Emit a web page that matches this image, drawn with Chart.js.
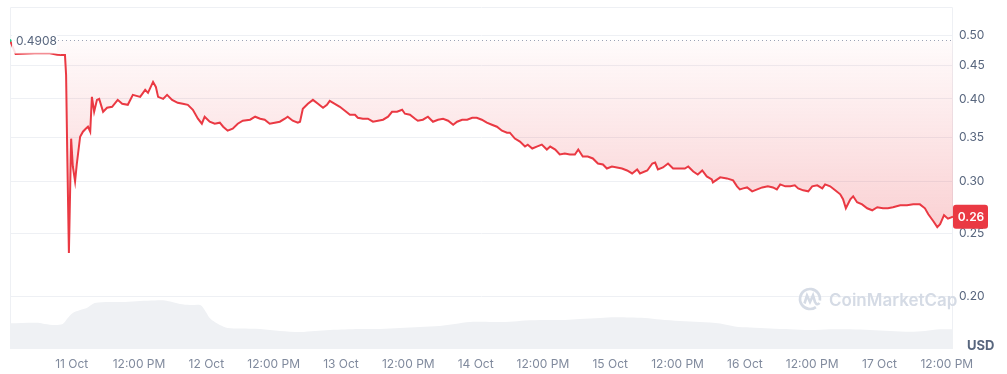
<!DOCTYPE html>
<html>
<head>
<meta charset="utf-8">
<script src="https://cdn.jsdelivr.net/npm/chart.js@4.4.1/dist/chart.umd.min.js"></script>
<style>
  html, body { margin: 0; padding: 0; background: #fff; }
  #wrap { width: 1007px; height: 374px; position: relative; }
</style>
</head>
<body>
<div id="wrap"><canvas id="priceChart"></canvas></div>
<script>
// hours since 11 Oct 00:00
const priceHours = [
  -11.0, -10.0, -6.6, -3.9, -2.6, -1.9, -1.2, -1.0, -0.8, -0.5,
  -0.1, 0.2, 0.6, 0.9, 1.5, 2.0, 2.5, 2.9, 3.3, 3.6,
  4.0, 4.5, 4.9, 5.6, 6.3, 7.2, 8.2, 9.0, 10.0, 10.9,
  12.2, 13.1, 13.6, 14.5, 15.0, 15.4, 16.3, 17.0, 17.9, 18.9,
  19.8, 20.7, 21.6, 22.5, 23.2, 23.7, 24.6, 25.5, 26.4, 27.0,
  27.8, 28.7, 29.6, 30.5, 31.8, 32.7, 33.6, 34.4, 35.3, 36.2,
  37.1, 38.0, 38.5, 39.4, 40.3, 40.7, 41.2, 42.1, 43.0, 43.9,
  44.8, 45.5, 46.0, 46.9, 47.8, 48.7, 49.6, 50.5, 51.0, 51.9,
  52.8, 53.7, 54.6, 55.5, 56.4, 57.1, 58.0, 58.9, 59.4, 60.3,
  61.2, 61.7, 62.6, 63.5, 64.4, 65.3, 66.2, 67.1, 68.0, 68.7,
  69.6, 70.5, 71.4, 72.2, 73.1, 74.0, 74.9, 75.8, 76.7, 77.6,
  78.1, 79.0, 79.9, 80.8, 81.3, 82.1, 82.9, 83.8, 84.7, 85.3,
  86.2, 87.0, 87.9, 88.8, 89.7, 90.3, 91.1, 92.0, 92.9, 93.8,
  94.7, 95.4, 96.3, 97.2, 98.1, 99.0, 99.9, 100.8, 101.3, 102.6,
  103.5, 104.0, 104.5, 105.4, 106.3, 107.2, 108.1, 109.3, 109.9, 110.8,
  111.6, 112.4, 113.2, 114.1, 114.3, 115.6, 116.8, 117.9, 118.6, 119.1,
  119.7, 120.4, 121.3, 122.2, 123.1, 124.1, 125.0, 125.7, 126.3, 127.2,
  128.1, 128.9, 129.5, 130.4, 131.3, 132.0, 132.9, 133.8, 134.3, 135.2,
  136.1, 137.0, 137.5, 138.0, 138.8, 139.3, 140.0, 140.9, 141.8, 142.7,
  143.6, 144.6, 145.5, 146.4, 147.7, 148.9, 150.0, 151.2, 152.1, 152.7,
  153.6, 154.3, 154.8, 155.5, 156.2, 157.1
];
const prices = [
  0.4908, 0.4680, 0.4695, 0.4695, 0.4668, 0.4663, 0.4663, 0.4350, 0.3326, 0.2331,
  0.3480, 0.3157, 0.2996, 0.3179, 0.3504, 0.3566, 0.3603, 0.3629, 0.3566, 0.4029,
  0.3824, 0.3987, 0.4001, 0.3824, 0.3878, 0.3891, 0.3987, 0.3932, 0.3918, 0.4057,
  0.4029, 0.4129, 0.4086, 0.4246, 0.4172, 0.4029, 0.4001, 0.4057, 0.3987, 0.3946,
  0.3932, 0.3918, 0.3851, 0.3732, 0.3667, 0.3758, 0.3693, 0.3667, 0.3680, 0.3629,
  0.3579, 0.3604, 0.3667, 0.3706, 0.3719, 0.3758, 0.3732, 0.3719, 0.3667, 0.3680,
  0.3693, 0.3732, 0.3758, 0.3706, 0.3680, 0.3693, 0.3864, 0.3932, 0.3987, 0.3932,
  0.3878, 0.3918, 0.3973, 0.3932, 0.3891, 0.3838, 0.3784, 0.3784, 0.3745, 0.3732,
  0.3732, 0.3693, 0.3706, 0.3719, 0.3758, 0.3824, 0.3824, 0.3851, 0.3798, 0.3784,
  0.3732, 0.3706, 0.3719, 0.3758, 0.3693, 0.3719, 0.3732, 0.3706, 0.3654, 0.3693,
  0.3719, 0.3719, 0.3745, 0.3745, 0.3719, 0.3680, 0.3654, 0.3629, 0.3579, 0.3554,
  0.3554, 0.3481, 0.3444, 0.3385, 0.3408, 0.3362, 0.3385, 0.3408, 0.3350, 0.3385,
  0.3350, 0.3292, 0.3303, 0.3292, 0.3292, 0.3350, 0.3270, 0.3270, 0.3247, 0.3190,
  0.3179, 0.3135, 0.3157, 0.3146, 0.3135, 0.3113, 0.3081, 0.3124, 0.3081, 0.3113,
  0.3190, 0.3201, 0.3124, 0.3146, 0.3190, 0.3135, 0.3135, 0.3135, 0.3157, 0.3102,
  0.3070, 0.3113, 0.3049, 0.3018, 0.2986, 0.3039, 0.3028, 0.3007, 0.2945, 0.2914,
  0.2924, 0.2934, 0.2894, 0.2914, 0.2934, 0.2945, 0.2934, 0.2914, 0.2965, 0.2945,
  0.2945, 0.2955, 0.2924, 0.2904, 0.2894, 0.2945, 0.2955, 0.2924, 0.2965, 0.2945,
  0.2904, 0.2864, 0.2815, 0.2727, 0.2815, 0.2844, 0.2785, 0.2765, 0.2727, 0.2708,
  0.2737, 0.2727, 0.2727, 0.2737, 0.2756, 0.2756, 0.2765, 0.2765, 0.2727, 0.2671,
  0.2606, 0.2553, 0.2579, 0.2662, 0.2630, 0.2648
];

// volume, millions USD
const volumeHours = [
  -11.0, -6.0, -4.8, -3.0, -1.6, -0.7, 0.2, 1.5, 2.7, 4.1,
  6.8, 9.5, 12.2, 14.8, 16.6, 17.9, 19.3, 21.1, 22.9, 23.7,
  24.6, 25.5, 26.4, 27.8, 30.0, 33.6, 37.1, 40.7, 43.4, 46.0,
  48.7, 51.4, 55.0, 58.5, 62.1, 65.6, 68.3, 71.0, 74.6, 78.1,
  80.8, 84.4, 87.9, 90.6, 94.2, 96.9, 99.5, 102.2, 104.9, 108.4,
  112.0, 115.6, 118.2, 120.9, 124.5, 128.1, 131.6, 135.2, 138.8, 142.3,
  145.9, 149.5, 152.1, 154.8, 157.1
];
const volumes = [
  10.3, 10.5, 10.0, 9.6, 10.0, 12.4, 14.4, 15.6, 16.4, 18.4,
  18.8, 18.8, 19.2, 19.4, 19.4, 18.8, 18.0, 17.6, 17.6, 15.6,
  12.4, 10.8, 9.6, 8.4, 8.2, 8.0, 7.2, 6.8, 7.2, 7.6,
  7.8, 8.0, 8.0, 8.4, 8.8, 9.2, 10.0, 10.8, 10.8, 10.9,
  11.4, 11.6, 11.6, 12.0, 12.4, 12.7, 12.6, 12.4, 11.8, 11.2,
  10.8, 10.2, 9.0, 8.6, 8.2, 7.9, 7.6, 7.9, 7.9, 7.6,
  7.2, 6.9, 7.2, 7.9, 7.9
];

const openPrice = 0.4908;
const priceTicks = [0.20, 0.25, 0.30, 0.35, 0.40, 0.45, 0.50];
const timeTicks = [0, 12, 24, 36, 48, 60, 72, 84, 96, 108, 120, 132, 144, 156];
const timeLabels = ['11 Oct', '12:00 PM', '12 Oct', '12:00 PM', '13 Oct', '12:00 PM', '14 Oct',
  '12:00 PM', '15 Oct', '12:00 PM', '16 Oct', '12:00 PM', '17 Oct', '12:00 PM'];

const xMin = -11.0, xMax = 157.1;
const FONT = 'Inter, "Noto Sans", sans-serif';
const RED = '#ea3943';

function redFill(context) {
  const chart = context.chart;
  const yScale = chart.scales.y;
  if (!chart.chartArea || !yScale) return 'rgba(234,57,67,0.08)';
  const top = yScale.getPixelForValue(openPrice);
  const bottom = yScale.getPixelForValue(0.25);
  const g = chart.ctx.createLinearGradient(0, top, 0, bottom);
  g.addColorStop(0, 'rgba(234,57,67,0.02)');
  g.addColorStop(1, 'rgba(234,57,67,0.24)');
  return g;
}

// frame, watermark, open price label, last price tag
const overlay = {
  id: 'overlay',
  beforeDatasetsDraw(chart) {
    const c = chart.ctx, a = chart.chartArea;
    c.save();
    c.strokeStyle = '#eef0f4';
    c.lineWidth = 1;
    c.beginPath();
    c.moveTo(a.left + 0.5, a.bottom);
    c.lineTo(a.left + 0.5, a.top + 0.5);
    c.lineTo(a.right - 0.5, a.top + 0.5);
    c.lineTo(a.right - 0.5, a.bottom);
    c.stroke();

    // watermark
    const cx = a.right - 143, cy = a.bottom - 50;
    c.strokeStyle = '#d5dbe5';
    c.lineWidth = 2.6;
    c.beginPath();
    c.arc(cx, cy, 10, Math.PI * 0.3, Math.PI * 2.05);
    c.stroke();
    c.beginPath();
    c.moveTo(cx - 5.5, cy + 4.5);
    c.lineTo(cx - 3, cy - 3.5);
    c.lineTo(cx, cy + 3);
    c.lineTo(cx + 3, cy - 3.5);
    c.lineTo(cx + 5, cy + 3);
    c.quadraticCurveTo(cx + 7, cy + 7, cx + 9.5, cy + 4);
    c.stroke();
    c.fillStyle = '#d5dbe5';
    c.font = '600 17px ' + FONT;
    c.textBaseline = 'middle';
    c.fillText('CoinMarketCap', cx + 19, cy + 1.5);
    c.restore();
  },
  afterDraw(chart) {
    const c = chart.ctx, a = chart.chartArea, y = chart.scales.y;
    c.save();
    // open price label
    const oy = y.getPixelForValue(openPrice);
    c.fillStyle = 'rgba(255,255,255,0.86)';
    c.fillRect(a.left + 2, oy - 10, 45, 23);
    c.fillStyle = '#58667e';
    c.font = '12px ' + FONT;
    c.textBaseline = 'middle';
    c.textAlign = 'left';
    c.fillText(openPrice.toFixed(4), a.left + 6, oy + 1);

    // last price tag
    const last = prices[prices.length - 1];
    const ly = y.getPixelForValue(last);
    c.fillStyle = RED;
    c.beginPath();
    c.roundRect(a.right, ly - 12, 35, 24, 3);
    c.fill();
    c.fillStyle = '#ffffff';
    c.font = '600 12px ' + FONT;
    c.textAlign = 'center';
    c.fillText(last.toFixed(2), a.right + 18, ly + 1);

    // currency
    c.fillStyle = '#58667e';
    c.font = 'bold 13px ' + FONT;
    c.textAlign = 'left';
    c.fillText('USD', a.right + 14, a.bottom - 3);
    c.restore();
  }
};

const ctx = document.getElementById('priceChart').getContext('2d');
const priceChart = new Chart(ctx, {
  type: 'line',
  data: {
    datasets: [
      {
        label: 'Price',
        data: priceHours.map((h, i) => ({ x: h, y: prices[i] })),
        yAxisID: 'y',
        borderColor: RED,
        borderWidth: 2,
        backgroundColor: redFill,
        fill: { target: { value: openPrice } },
        tension: 0,
        pointRadius: (p) => (p.dataIndex === 0 ? 1.5 : 0),
        pointBackgroundColor: '#16c784',
        pointBorderWidth: 0,
        order: 1
      },
      {
        label: 'Open',
        data: [{ x: xMin, y: openPrice }, { x: xMax, y: openPrice }],
        yAxisID: 'y',
        borderColor: '#9aa3b5',
        borderWidth: 1,
        borderDash: [1, 3],
        pointRadius: 0,
        fill: false,
        order: 2
      },
      {
        label: 'Volume',
        data: volumeHours.map((h, i) => ({ x: h, y: volumes[i] })),
        yAxisID: 'yVol',
        borderColor: 'rgba(0,0,0,0)',
        borderWidth: 0,
        backgroundColor: '#eff1f4',
        fill: 'origin',
        tension: 0.3,
        pointRadius: 0,
        order: 3
      }
    ]
  },
  options: {
    responsive: true,
    maintainAspectRatio: false,
    devicePixelRatio: 1,
    animation: false,
    layout: { padding: { left: 10, top: 7, right: 0, bottom: 0 } },
    plugins: {
      legend: { display: false },
      tooltip: { enabled: false }
    },
    scales: {
      x: {
        type: 'linear',
        min: xMin,
        max: xMax,
        grid: { display: false, drawTicks: false },
        border: { display: false },
        afterBuildTicks: (s) => { s.ticks = timeTicks.map((v) => ({ value: v })); },
        afterFit: (s) => { s.height = 25; s.paddingLeft = 0; s.paddingRight = 0; },
        ticks: {
          autoSkip: false,
          maxRotation: 0,
          padding: 8,
          color: '#808a9d',
          font: { family: FONT, size: 12 },
          callback: (v, i) => timeLabels[i]
        }
      },
      y: {
        type: 'logarithmic',
        position: 'right',
        min: 0.1666,
        max: 0.5519,
        afterBuildTicks: (s) => { s.ticks = priceTicks.map((v) => ({ value: v })); },
        afterFit: (s) => { s.width = 54; s.paddingTop = 0; s.paddingBottom = 0; },
        grid: { color: '#eef0f4', drawTicks: false },
        border: { display: false },
        ticks: {
          padding: 6,
          color: '#58667e',
          font: { family: FONT, size: 12 },
          callback: (v) => Number(v).toFixed(2)
        }
      },
      yVol: {
        type: 'linear',
        display: false,
        min: 0,
        max: 136.8
      }
    }
  },
  plugins: [overlay]
});
</script>
</body>
</html>
